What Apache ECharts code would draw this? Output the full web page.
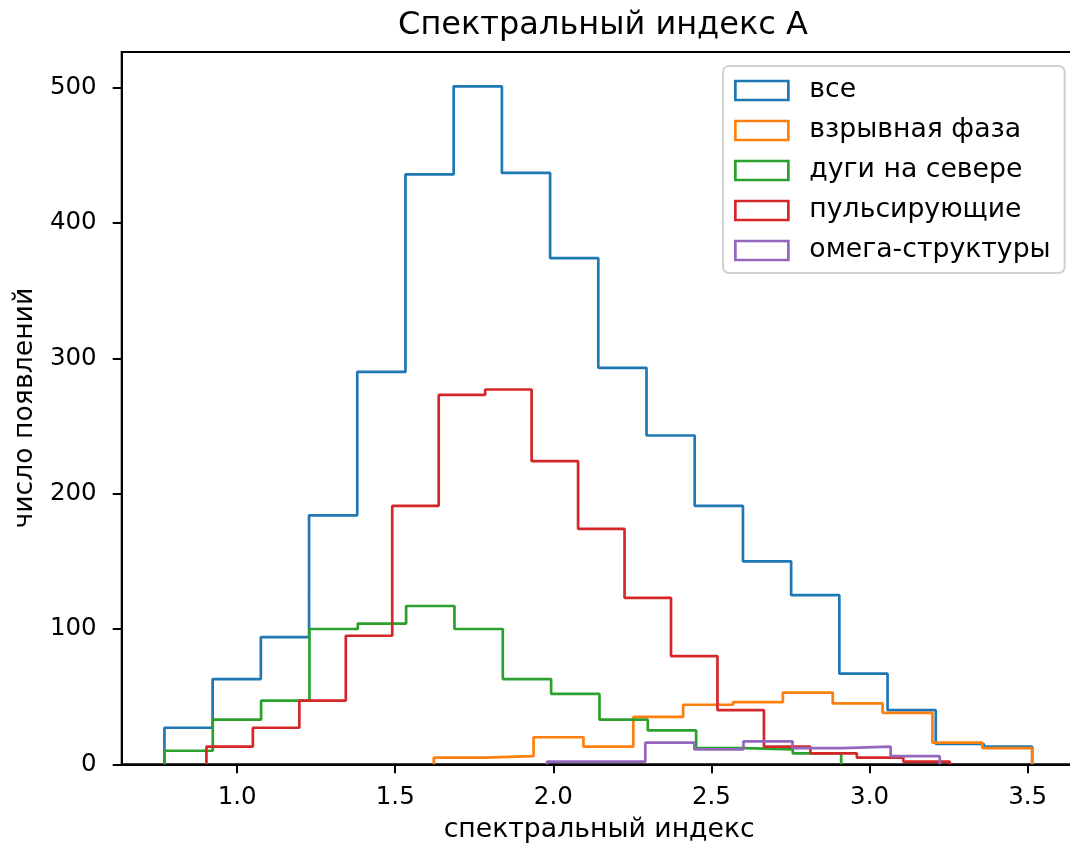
<!DOCTYPE html>
<html>
<head>
<meta charset="utf-8">
<script src="https://cdn.jsdelivr.net/npm/echarts@6/dist/echarts.min.js"></script>
<style>
  html, body { margin: 0; padding: 0; background: #fff; }
  #chart { width: 1070px; height: 848px; }
</style>
</head>
<body>
<div id="chart"></div>
<script>
// Histogram counts per group (step outlines), each with its own bin range
const seriesNames = ['все', 'взрывная фаза', 'дуги на севере', 'пульсирующие', 'омега-структуры'];
const seriesColors = ['#1f77b4', '#ff7f0e', '#2ca02c', '#d62728', '#9467bd'];

const allCounts = [27, 63, 94, 184, 290, 436, 501, 437, 374, 293, 243, 191, 150, 125, 67, 40, 15, 13];
const allRange = [0.7701, 3.5142];

const burstCounts = [5, 6, 20, 13, 35, 44, 46, 53, 45, 38, 16, 12];
const burstRange = [1.6221, 3.5142];

const northArcCounts = [10, 33, 47, 100, 104, 117, 100, 63, 52, 33, 25, 12, 11, 8];
const northArcRange = [0.7701, 2.9102];

const pulsatingCounts = [13, 27, 47, 95, 191, 273, 277, 224, 174, 123, 80, 40, 13, 8, 5, 2];
const pulsatingRange = [0.9029, 3.2536];

const omegaCounts = [2, 2, 16, 11, 17, 12, 13, 6];
const omegaRange = [1.9804, 3.2220];

const xTicks = [1.0, 1.5, 2.0, 2.5, 3.0, 3.5];
const yTicks = [0, 100, 200, 300, 400, 500];

// Build step-outline points: rise at first edge, plateau per bin, drop at last edge
function stepPoints(counts, range) {
  const n = counts.length;
  const edge = i => range[0] + (range[1] - range[0]) * i / n;
  const pts = [[edge(0), 0]];
  for (let i = 0; i < n; i++) pts.push([edge(i), counts[i]]);
  pts.push([edge(n), 0]);
  return pts;
}

const groups = [
  [allCounts, allRange],
  [burstCounts, burstRange],
  [northArcCounts, northArcRange],
  [pulsatingCounts, pulsatingRange],
  [omegaCounts, omegaRange]
];

const FONT = 'DejaVu Sans';
const TICK_FONT = 24.5;
const LABEL_FONT = 26.7;
const chart = echarts.init(document.getElementById('chart'), null, { renderer: 'canvas' });

chart.setOption({
  animation: false,
  backgroundColor: '#ffffff',
  textStyle: { fontFamily: FONT, color: '#000' },
  title: {
    text: 'Спектральный индекс А',
    left: 598,
    textAlign: 'center',
    top: 5,
    textStyle: { fontFamily: FONT, fontSize: 32, fontWeight: 'normal', color: '#000' }
  },
  grid: {
    left: 121.7,
    top: 52,
    width: 955,
    height: 712.3,
    containLabel: false,
    outerBoundsMode: 'none',
    show: true,
    borderColor: '#000',
    borderWidth: 2,
    backgroundColor: 'transparent'
  },
  legend: {
    orient: 'vertical',
    left: 723,
    top: 66,
    padding: [11, 14, 9, 11],
    itemWidth: 53,
    itemHeight: 19,
    itemGap: 13,
    backgroundColor: '#ffffff',
    borderColor: '#d0d0d0',
    borderWidth: 2,
    borderRadius: 6,
    textStyle: { fontFamily: FONT, fontSize: LABEL_FONT, color: '#000', padding: [0, 0, 0, 16] },
    data: seriesNames.map((name, i) => ({
      name: name,
      icon: 'rect',
      itemStyle: { color: '#ffffff', borderColor: seriesColors[i], borderWidth: 2.7 }
    }))
  },
  xAxis: {
    type: 'value',
    min: 0.635,
    max: 3.655,
    name: 'спектральный индекс',
    nameLocation: 'middle',
    nameGap: 52,
    nameTextStyle: { fontFamily: FONT, fontSize: LABEL_FONT, color: '#000' },
    axisLine: { show: true, lineStyle: { color: '#000', width: 2 } },
    axisTick: { show: true, inside: false, length: 9, lineStyle: { color: '#000', width: 2 }, customValues: xTicks },
    axisLabel: {
      show: true, margin: 21, fontFamily: FONT, fontSize: TICK_FONT, color: '#000',
      customValues: xTicks, formatter: v => v.toFixed(1)
    },
    splitLine: { show: false }
  },
  yAxis: {
    type: 'value',
    min: 0,
    max: 526.4,
    name: 'число появлений',
    nameLocation: 'middle',
    nameGap: 59,
    nameTextStyle: { fontFamily: FONT, fontSize: LABEL_FONT, color: '#000' },
    axisLine: { show: true, lineStyle: { color: '#000', width: 2 } },
    axisTick: { show: true, inside: false, length: 9, lineStyle: { color: '#000', width: 2 }, customValues: yTicks },
    axisLabel: {
      show: true, margin: 25, fontFamily: FONT, fontSize: TICK_FONT, color: '#000',
      customValues: yTicks, formatter: v => String(v)
    },
    splitLine: { show: false }
  },
  series: groups.map((g, i) => ({
    name: seriesNames[i],
    type: 'line',
    step: 'end',
    data: stepPoints(g[0], g[1]),
    showSymbol: false,
    symbol: 'none',
    color: seriesColors[i],
    lineStyle: { color: seriesColors[i], width: 2.7 },
    itemStyle: { color: '#ffffff', borderColor: seriesColors[i] },
    emphasis: { disabled: true },
    clip: true
  }))
});
</script>
</body>
</html>
